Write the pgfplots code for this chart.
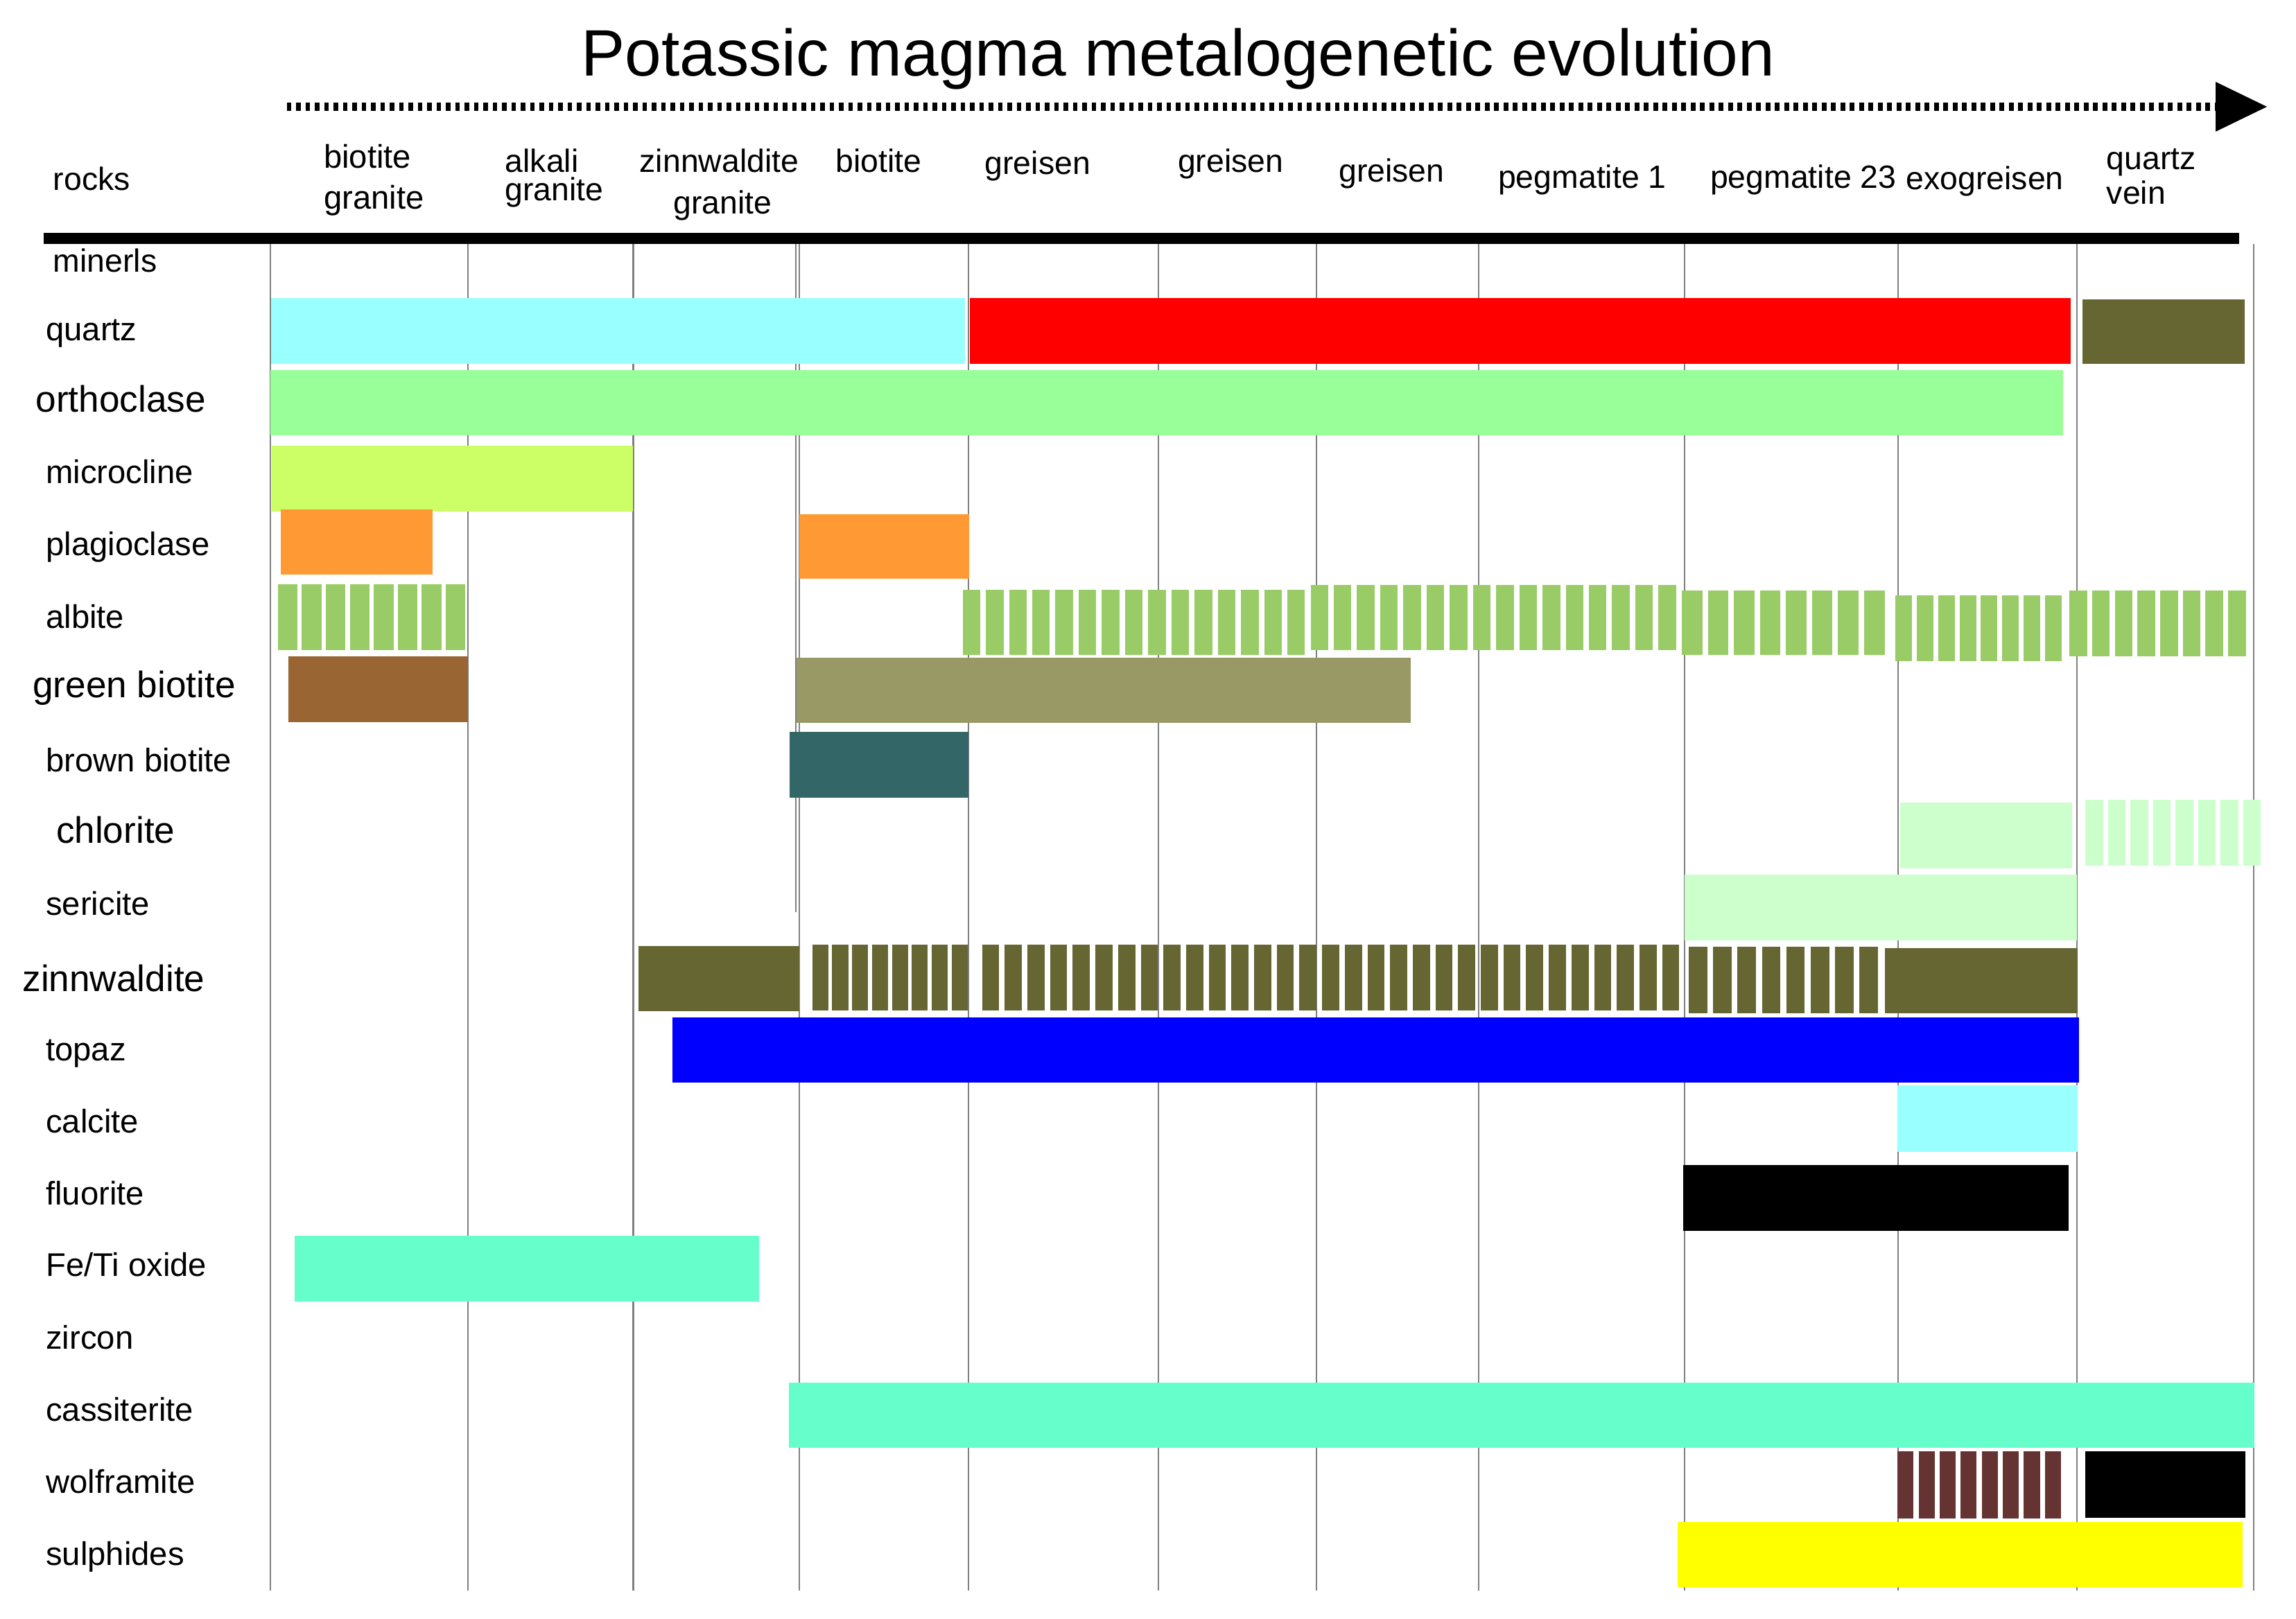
\documentclass[border=0pt]{standalone}
\usepackage{pgfplots}
\pgfplotsset{compat=1.18}
\usepackage{fontspec}
\setmainfont{Liberation Sans}
\definecolor{cq}{HTML}{99FFFF}
\definecolor{cred}{HTML}{FF0000}
\definecolor{colive}{HTML}{666633}
\definecolor{cortho}{HTML}{99FF99}
\definecolor{cmicro}{HTML}{CCFF66}
\definecolor{corange}{HTML}{FF9933}
\definecolor{calb}{HTML}{99CC66}
\definecolor{cbrown}{HTML}{996633}
\definecolor{ckhaki}{HTML}{999966}
\definecolor{cteal}{HTML}{336666}
\definecolor{cpale}{HTML}{CCFFCC}
\definecolor{cblue}{HTML}{0000FF}
\definecolor{caqua}{HTML}{66FFCC}
\definecolor{cwolf}{HTML}{663333}
\definecolor{cyel}{HTML}{FFFF00}
\newcommand{\bx}[5]{\addplot[fill=#1,draw=none,mark=none] coordinates {(#2,#4) (#3,#4) (#3,#5) (#2,#5)} -- cycle;}
% color, x1, x2, yc, linewidth, on, off
\newcommand{\segbar}[7]{\addplot[draw=#1,line width=#5,dash pattern=on #6 off #7,mark=none] coordinates {(#2,#4) (#3,#4)};}
\newcommand{\vl}[3]{\addplot[draw=black!50,line width=0.5pt,mark=none] coordinates {(#1,#2) (#1,#3)};}
\newcommand{\lab}[4]{\node[anchor=base west,inner sep=0pt,font=\fontsize{#3}{#3}\selectfont] at (axis cs:#1,#2) {#4};}
\begin{document}
\begin{tikzpicture}
\begin{axis}[width=784pt,height=553.5pt,scale only axis,
  xmin=0,xmax=1568,ymin=0,ymax=1107,y dir=reverse,hide axis,clip=false]
\path (axis cs:0,0) (axis cs:1568,1107);
% vertical grid lines
\vl{185}{167}{1088}
\vl{320}{167}{1088}
\vl{433}{167}{1088}
\vl{544}{167}{624}
\vl{546.5}{167}{1088}
\vl{662}{167}{1088}
\vl{792}{167}{1088}
\vl{900}{167}{1088}
\vl{1011}{167}{1088}
\vl{1151.7}{167}{1088}
\vl{1298}{167}{1088}
\vl{1420}{167}{1088}
\vl{1541}{167}{1088}
% title arrow
\addplot[draw=black,line width=2.9pt,dash pattern=on 1.6pt off 1.6pt,mark=none] coordinates {(196,73) (1515,73)};
\addplot[fill=black,draw=none,mark=none] coordinates {(1515,56) (1550,73) (1515,90)} -- cycle;
% header rule
\addplot[draw=black,line width=3.75pt,mark=none] coordinates {(30,163) (1531,163)};
% solid bars
\bx{cq}{185.5}{660}{204}{249}
\bx{cred}{663}{1416}{204}{249}
\bx{colive}{1424}{1534.6}{205}{249}
\bx{cortho}{185}{1410.5}{253}{297.5}
\bx{cmicro}{186}{432.7}{305}{350}
\bx{corange}{191.8}{295.7}{348.6}{393}
\bx{corange}{546.6}{662.5}{351.5}{395.7}
\bx{cbrown}{197}{320}{449}{494}
\bx{ckhaki}{544.4}{964.4}{449.6}{494.6}
\bx{cteal}{540}{662}{500.7}{545.7}
\bx{cpale}{1299}{1416.6}{549}{594}
\bx{cpale}{1151.6}{1420}{598}{643}
\bx{colive}{436.7}{546.6}{647}{691.7}
\bx{colive}{1289}{1420.6}{648.4}{693.2}
\bx{cblue}{460}{1421.5}{696}{740.5}
\bx{cq}{1297.4}{1420.6}{742.4}{788}
\bx{black}{1151}{1414.5}{796.6}{841.8}
\bx{caqua}{201.5}{519}{845.2}{890}
\bx{caqua}{539.6}{1541.3}{945.5}{990.3}
\bx{black}{1426}{1535.2}{992.5}{1038}
\bx{cyel}{1147}{1533.6}{1040.8}{1085.6}
% segmented bars
\segbar{calb}{190}{318.4}{422}{22.5pt}{6.7pt}{1.5pt}
\segbar{calb}{658.2}{896.1}{425.5}{22.25pt}{6.03pt}{1.9pt}
\segbar{calb}{896.1}{1146}{422.3}{22.25pt}{6.03pt}{1.9pt}
\segbar{calb}{1150}{1290.7}{426}{22.15pt}{7pt}{1.9pt}
\segbar{calb}{1296}{1411}{429.5}{22.5pt}{5.7pt}{1.6pt}
\segbar{calb}{1415}{1536.7}{426.5}{22.5pt}{6.05pt}{1.7pt}
\segbar{cpale}{1426}{1547.4}{569.5}{22.5pt}{6pt}{1.7pt}
\segbar{colive}{555.4}{662.3}{668.6}{22.7pt}{5.5pt}{1.3pt}
\segbar{colive}{671.5}{1148.6}{668.5}{22.5pt}{5.85pt}{1.9pt}
\segbar{colive}{1154.7}{1284}{670.2}{22.7pt}{6.33pt}{2pt}
\segbar{cwolf}{1297.4}{1409.3}{1015.5}{23pt}{5.5pt}{1.7pt}
% title
\lab{397}{52}{22.45}{Potassic magma metalogenetic evolution}
% header labels
\lab{36}{130}{11}{rocks}
\lab{221}{115}{11.2}{biotite}
\lab{221}{143}{11.2}{granite}
\lab{345}{117.6}{11}{alkali}
\lab{345}{137}{11}{granite}
\lab{437}{117.6}{11}{zinnwaldite}
\lab{460}{146}{11}{granite}
\lab{571}{117.6}{11}{biotite}
\lab{673}{119}{11}{greisen}
\lab{805}{117.6}{11}{greisen}
\lab{915}{124.6}{11}{greisen}
\lab{1024}{128.6}{11}{pegmatite 1}
\lab{1169}{128.6}{11}{pegmatite 23}
\lab{1303}{129.5}{11}{exogreisen}
\lab{1440}{116}{11}{quartz}
\lab{1440}{139.7}{11}{vein}
% row labels
\lab{36}{186}{11}{minerls}
\lab{31}{233}{11.2}{quartz}
\lab{24}{282}{12.6}{orthoclase}
\lab{31}{330.5}{11.2}{microcline}
\lab{31}{380}{11.2}{plagioclase}
\lab{31}{429.6}{11.2}{albite}
\lab{22}{477}{12.6}{green biotite}
\lab{31}{527.7}{11.2}{brown biotite}
\lab{38}{576.5}{12.6}{chlorite}
\lab{31}{626}{11.2}{sericite}
\lab{15}{678}{12.6}{zinnwaldite}
\lab{31}{725.3}{11.2}{topaz}
\lab{31}{774.7}{11.2}{calcite}
\lab{31}{824}{11.2}{fluorite}
\lab{31}{873}{11.2}{Fe/Ti oxide}
\lab{31}{922.8}{11.2}{zircon}
\lab{31}{972}{11.2}{cassiterite}
\lab{31}{1021}{11.2}{wolframite}
\lab{31}{1070.6}{11.2}{sulphides}
\end{axis}
\end{tikzpicture}
\end{document}
